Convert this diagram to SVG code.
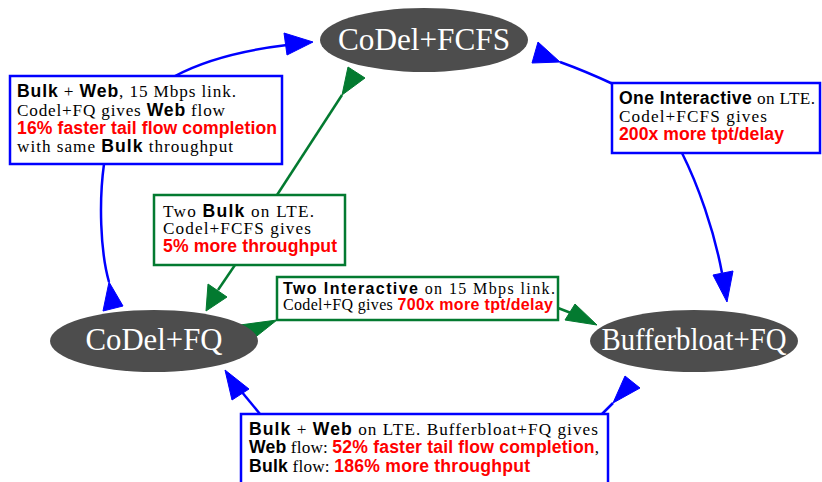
<svg xmlns="http://www.w3.org/2000/svg" width="822" height="482" viewBox="0 0 822 482">
<style>
.bg{fill:#ffffff}
.node ellipse{fill:#4d4d4d;stroke:none}
.nl{font-family:"Liberation Serif","Times New Roman",serif;font-size:31px;fill:#ffffff;text-anchor:middle}
.box{fill:#ffffff;stroke-width:2.5}
.bb{stroke:#0000ff}
.gb{stroke:#037a30}
.t{font-family:"Liberation Serif","Times New Roman",serif;font-size:17.2px;fill:#000}
.t2{font-family:"Liberation Serif","Times New Roman",serif;font-size:16px;fill:#000}
.b{font-family:"Liberation Sans",Arial,sans-serif;font-weight:bold;font-size:17.6px}
.b2{font-family:"Liberation Sans",Arial,sans-serif;font-weight:bold;font-size:16px}
.r{fill:#ff0000}
.eb{fill:none;stroke:#0000ff;stroke-width:2.5}
.eg{fill:none;stroke:#037a30;stroke-width:2.5}
.hb{fill:#0000ff;stroke:#0000ff;stroke-width:1}
.hg{fill:#037a30;stroke:#037a30;stroke-width:1}
</style>
<rect class="bg" x="0" y="0" width="822" height="482"/>

<g id="connectors">
  <path class="eb" d="M175,76 C205,60 245,50 287,45"/>
  <polygon class="hb" points="313,42 284,33 287,55"/>
  <path class="eb" d="M104,164 C99,200 100,250 109,282"/>
  <polygon class="hb" points="109,282 103,311 123,306"/>
  <path class="eb" d="M560,62 Q585,71 613,84"/>
  <polygon class="hb" points="538,42 532,63 560,62"/>
  <path class="eb" d="M682,153 C698,185 714,230 722,273"/>
  <polygon class="hb" points="713,275 733,271 727,302"/>
  <path class="eg" d="M342,95 L277,195"/>
  <polygon class="hg" points="348,67 365,78 342,95"/>
  <path class="eg" d="M235,265 L218,290"/>
  <polygon class="hg" points="208,284 227,297 206,311"/>
  <polygon class="hg" points="240,325 248,343 277,320"/>
  <path class="eg" d="M558,308 L571,313"/>
  <polygon class="hg" points="565,320 575,304 597,325"/>
  <path class="eb" d="M260,414 L241,391"/>
  <polygon class="hb" points="225,370 232,400 249,389"/>
  <path class="eb" d="M613,403 L602,414"/>
  <polygon class="hb" points="625,376 640,388 613,403"/>
</g>

<g id="codel_fcfs" class="node">
  <ellipse cx="424" cy="40" rx="104" ry="32"/>
  <text class="nl" x="424" y="50" textLength="172" lengthAdjust="spacingAndGlyphs">CoDel+FCFS</text>
</g>
<g id="codel_fq" class="node">
  <ellipse cx="154" cy="341" rx="104" ry="31"/>
  <text class="nl" x="154" y="350" textLength="137" lengthAdjust="spacingAndGlyphs">CoDel+FQ</text>
</g>
<g id="bufferbloat_fq" class="node">
  <ellipse cx="694" cy="341" rx="104" ry="31"/>
  <text class="nl" x="694" y="350" textLength="185" lengthAdjust="spacingAndGlyphs">Bufferbloat+FQ</text>
</g>

<g id="label_bulk_web_15">
  <rect class="box bb" x="10" y="76" width="272" height="88"/>
  <text class="t" x="17" y="97" textLength="219"><tspan class="b">Bulk</tspan> + <tspan class="b">Web</tspan>, 15 Mbps link.</text>
  <text class="t" x="17" y="115.5" textLength="208">Codel+FQ gives <tspan class="b">Web</tspan> flow</text>
  <text class="t" x="17" y="134" textLength="260"><tspan class="b r">16% faster tail flow completion</tspan></text>
  <text class="t" x="17" y="152" textLength="216">with same <tspan class="b">Bulk</tspan> throughput</text>
</g>

<g id="label_one_interactive">
  <rect class="box bb" x="612" y="83" width="208" height="70"/>
  <text class="t" x="619" y="104" textLength="196"><tspan class="b">One Interactive</tspan> on LTE.</text>
  <text class="t" x="619" y="122" textLength="148">Codel+FCFS gives</text>
  <text class="t" x="619" y="140" textLength="165"><tspan class="b r">200x more tpt/delay</tspan></text>
</g>

<g id="label_two_bulk">
  <rect class="box gb" x="154" y="195" width="191" height="70"/>
  <text class="t" x="163" y="216.5" textLength="151">Two <tspan class="b">Bulk</tspan> on LTE.</text>
  <text class="t" x="163" y="234" textLength="148">Codel+FCFS gives</text>
  <text class="t" x="163" y="252" textLength="174"><tspan class="b r">5% more throughput</tspan></text>
</g>

<g id="label_two_interactive">
  <rect class="box gb" x="277" y="277" width="281" height="43"/>
  <text class="t2" x="283" y="294" textLength="272"><tspan class="b2">Two Interactive</tspan> on 15 Mbps link.</text>
  <text class="t2" x="283" y="310" textLength="270">Codel+FQ gives <tspan class="b2 r">700x more tpt/delay</tspan></text>
</g>

<g id="label_bulk_web_lte">
  <rect class="box bb" x="241" y="414" width="367" height="72"/>
  <text class="t" x="249" y="434.5" textLength="349"><tspan class="b">Bulk</tspan> + <tspan class="b">Web</tspan> on LTE. Bufferbloat+FQ gives</text>
  <text class="t" x="249" y="453" textLength="350"><tspan class="b">Web</tspan> flow: <tspan class="b r">52% faster tail flow completion</tspan>,</text>
  <text class="t" x="249" y="471.5" textLength="281"><tspan class="b">Bulk</tspan> flow: <tspan class="b r">186% more throughput</tspan></text>
</g>
</svg>
